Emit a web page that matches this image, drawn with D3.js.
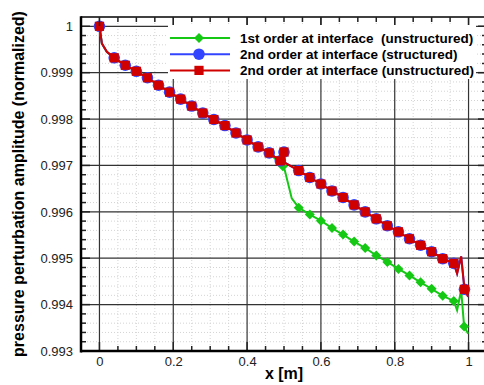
<!DOCTYPE html>
<html>
<head>
<meta charset="utf-8">
<script src="https://cdn.jsdelivr.net/npm/d3@7"></script>
<style>
  body { margin: 0; background: #fff; }
  svg { display: block; font-family: "Liberation Sans", Arial, Helvetica, sans-serif; }
</style>
</head>
<body>
<svg id="chart" width="484" height="385"></svg>
<script>
// ---- data ----
// 1st order at interface (unstructured)
var x1stUnstr = [0, 0.0065, 0.02, 0.04, 0.07, 0.10, 0.13, 0.16, 0.19, 0.22, 0.25, 0.28, 0.31, 0.34, 0.37, 0.40, 0.43, 0.46,
    0.497, 0.502, 0.521, 0.54, 0.57, 0.60, 0.63, 0.66, 0.69, 0.72, 0.75, 0.78, 0.81, 0.84, 0.87, 0.90, 0.93, 0.96,
    0.969, 0.980, 0.988, 0.999];
var y1stUnstr = [1, 0.99963, 0.99945, 0.99932, 0.99916, 0.99903, 0.99889, 0.99873, 0.99858, 0.99843, 0.99828, 0.99813, 0.99799, 0.99786, 0.99770, 0.99755, 0.99740, 0.99727,
    0.99698, 0.99690, 0.99629, 0.99609, 0.99594, 0.99581, 0.99565, 0.99551, 0.99536, 0.99522, 0.99506, 0.99492, 0.99477, 0.99463, 0.99448, 0.99434, 0.99419, 0.99408,
    0.99388, 0.99431, 0.99353, 0.99337];
var m1stUnstr = [1, 0, 0, 1, 1, 1, 1, 1, 1, 1, 1, 1, 1, 1, 1, 1, 1, 1,
    1, 0, 0, 1, 1, 1, 1, 1, 1, 1, 1, 1, 1, 1, 1, 1, 1, 1,
    0, 0, 1, 0];

// 2nd order at interface (structured)
var x2ndStr = [0, 0.0065, 0.02, 0.04, 0.07, 0.10, 0.13, 0.16, 0.19, 0.22, 0.25, 0.28, 0.31, 0.34, 0.37, 0.40, 0.43, 0.46,
    0.49, 0.50, 0.502, 0.54, 0.57, 0.60, 0.63, 0.66, 0.69, 0.72, 0.75, 0.78, 0.81, 0.84, 0.87, 0.90, 0.93, 0.96,
    0.969, 0.980, 0.989, 0.999];
var y2ndStr = [1, 0.99963, 0.99945, 0.99932, 0.99916, 0.99903, 0.99889, 0.99873, 0.99858, 0.99843, 0.99828, 0.99813, 0.99799, 0.99786, 0.99770, 0.99755, 0.99740, 0.99727,
    0.99710, 0.99729, 0.99706, 0.99689, 0.99674, 0.99660, 0.99645, 0.99631, 0.99615, 0.99600, 0.99585, 0.99570, 0.99557, 0.99542, 0.99528, 0.99514, 0.99499, 0.99489,
    0.99467, 0.99504, 0.99433, 0.99417];
var m2ndStr = [1, 0, 0, 1, 1, 1, 1, 1, 1, 1, 1, 1, 1, 1, 1, 1, 1, 1,
    1, 1, 0, 1, 1, 1, 1, 1, 1, 1, 1, 1, 1, 1, 1, 1, 1, 1,
    0, 0, 1, 0];

// 2nd order at interface (unstructured)
var x2ndUnstr = [0, 0.0065, 0.02, 0.04, 0.07, 0.10, 0.13, 0.16, 0.19, 0.22, 0.25, 0.28, 0.31, 0.34, 0.37, 0.40, 0.43, 0.46,
    0.49, 0.50, 0.502, 0.54, 0.57, 0.60, 0.63, 0.66, 0.69, 0.72, 0.75, 0.78, 0.81, 0.84, 0.87, 0.90, 0.93, 0.96,
    0.969, 0.980, 0.989, 0.999];
var y2ndUnstr = [1, 0.99963, 0.99945, 0.99932, 0.99916, 0.99903, 0.99889, 0.99873, 0.99858, 0.99843, 0.99828, 0.99813, 0.99799, 0.99786, 0.99770, 0.99755, 0.99740, 0.99727,
    0.99710, 0.99729, 0.99706, 0.99689, 0.99674, 0.99660, 0.99645, 0.99631, 0.99615, 0.99600, 0.99585, 0.99570, 0.99557, 0.99542, 0.99528, 0.99514, 0.99499, 0.99489,
    0.99467, 0.99504, 0.99433, 0.99417];
var m2ndUnstr = m2ndStr.slice();

var seriesNames = ["1st order at interface  (unstructured)", "2nd order at interface (structured)", "2nd order at interface (unstructured)"];
var xTicks = [0, 0.2, 0.4, 0.6, 0.8, 1];
var yTicks = [0.993, 0.994, 0.995, 0.996, 0.997, 0.998, 0.999, 1];
var yTickLabels = ["0.993", "0.994", "0.995", "0.996", "0.997", "0.998", "0.999", "1"];
var xTitle = "x [m]";
var yTitle = "pressure perturbation amplitude (normalized)";

SetupAmplitudeChart();

function SetupAmplitudeChart() {
    var svg = d3.select("#chart");
    var left = 81, right = 487, top = 17, bottom = 351;

    var x = d3.scaleLinear().domain([-0.05, 1.05]).range([left, right]);
    var y = d3.scaleLinear().domain([0.993, 1.0002]).range([bottom, top]);

    var xMinor = d3.range(-1, 22).map(function (i) { return i * 0.05; })
        .filter(function (d) { return d >= -0.05 && d <= 1.05 && Math.abs(d / 0.2 - Math.round(d / 0.2)) > 1e-6; });
    var yMinor = d3.range(0, 36).map(function (i) { return 0.993 + i * 0.0002; })
        .filter(function (d) { return Math.abs(d / 0.001 - Math.round(d / 0.001)) > 1e-6; });

    // minor dotted grid
    var grid = svg.append("g");
    grid.selectAll(".gx").data(xMinor).enter().append("line")
        .attr("x1", function (d) { return x(d); }).attr("x2", function (d) { return x(d); })
        .attr("y1", top).attr("y2", bottom)
        .attr("stroke", "#d4d4d4").attr("stroke-dasharray", "1,2");
    grid.selectAll(".gy").data(yMinor).enter().append("line")
        .attr("x1", left).attr("x2", right)
        .attr("y1", function (d) { return y(d); }).attr("y2", function (d) { return y(d); })
        .attr("stroke", "#d4d4d4").attr("stroke-dasharray", "1,2");

    // major grid
    grid.selectAll(".Gx").data(xTicks).enter().append("line")
        .attr("x1", function (d) { return x(d); }).attr("x2", function (d) { return x(d); })
        .attr("y1", top).attr("y2", bottom)
        .attr("stroke", "#333").attr("stroke-width", 1.2);
    grid.selectAll(".Gy").data(yTicks).enter().append("line")
        .attr("x1", left).attr("x2", right)
        .attr("y1", function (d) { return y(d); }).attr("y2", function (d) { return y(d); })
        .attr("stroke", "#333").attr("stroke-width", 1.2);

    // series
    var colors = ["#14c814", "#3344ff", "#d00000"];
    var sets = [
        { xs: x1stUnstr, ys: y1stUnstr, ms: m1stUnstr, shape: "diamond" },
        { xs: x2ndStr, ys: y2ndStr, ms: m2ndStr, shape: "circle" },
        { xs: x2ndUnstr, ys: y2ndUnstr, ms: m2ndUnstr, shape: "square" }
    ];

    var line = d3.line()
        .x(function (d) { return x(d[0]); })
        .y(function (d) { return y(d[1]); });

    sets.forEach(function (s, k) {
        var pts = s.xs.map(function (v, i) { return [v, s.ys[i], s.ms[i]]; });
        var g = svg.append("g");
        g.append("path")
            .attr("d", line(pts))
            .attr("fill", "none")
            .attr("stroke", colors[k])
            .attr("stroke-width", 2);
        drawMarkers(g, pts.filter(function (p) { return p[2] === 1; }), s.shape, colors[k], x, y);
    });

    // top frame and right frame
    svg.append("line").attr("x1", left).attr("x2", right).attr("y1", top).attr("y2", top)
        .attr("stroke", "#000").attr("stroke-width", 1.5);
    svg.append("line").attr("x1", right).attr("x2", right).attr("y1", top).attr("y2", bottom)
        .attr("stroke", "#000").attr("stroke-width", 1.5);

    // ticks on all four sides (inward)
    var ticks = svg.append("g").attr("stroke", "#222");
    xTicks.concat(xMinor).forEach(function (d) {
        var len = xTicks.indexOf(d) >= 0 ? 9 : 5;
        ticks.append("line").attr("x1", x(d)).attr("x2", x(d)).attr("y1", bottom).attr("y2", bottom - len).attr("stroke-width", 1.5);
        ticks.append("line").attr("x1", x(d)).attr("x2", x(d)).attr("y1", top).attr("y2", top + len).attr("stroke-width", 1.5);
    });
    yTicks.concat(yMinor).forEach(function (d) {
        var len = yTicks.indexOf(d) >= 0 ? 9 : 5;
        ticks.append("line").attr("x1", left).attr("x2", left + len).attr("y1", y(d)).attr("y2", y(d)).attr("stroke-width", 1.5);
        ticks.append("line").attr("x1", right).attr("x2", right - len).attr("y1", y(d)).attr("y2", y(d)).attr("stroke-width", 1.5);
    });

    // Add the X Axis labels
    svg.append("g")
        .attr("transform", "translate(0," + bottom + ")")
        .call(d3.axisBottom(x).tickValues(xTicks).tickSize(0).tickPadding(6)
            .tickFormat(function (d) { return d3.format("")(+d.toFixed(1)); }))
        .call(function (g) { g.select(".domain").remove(); })
        .selectAll("text").attr("font-size", 13).attr("fill", "#222")
        .attr("font-family", "Liberation Sans, Arial, sans-serif");

    // Add the Y Axis labels
    svg.append("g")
        .attr("transform", "translate(" + left + ",0)")
        .call(d3.axisLeft(y).tickValues(yTicks).tickSize(0).tickPadding(8)
            .tickFormat(function (d, i) { return yTickLabels[i]; }))
        .call(function (g) { g.select(".domain").remove(); })
        .selectAll("text").attr("font-size", 13).attr("fill", "#222")
        .attr("font-family", "Liberation Sans, Arial, sans-serif");

    // thick axis lines
    svg.append("line").attr("x1", left).attr("x2", left).attr("y1", top - 0.75).attr("y2", bottom + 1.5)
        .attr("stroke", "#000").attr("stroke-width", 2.5);
    svg.append("line").attr("x1", left).attr("x2", right).attr("y1", bottom).attr("y2", bottom)
        .attr("stroke", "#000").attr("stroke-width", 2.5);

    // axis titles
    svg.append("text")
        .attr("x", (left + right) / 2).attr("y", 379)
        .attr("text-anchor", "middle")
        .attr("font-size", 16).attr("font-weight", "bold")
        .text(xTitle);
    svg.append("text")
        .attr("transform", "translate(24," + (top + bottom) / 2 + ") rotate(-90)")
        .attr("text-anchor", "middle")
        .attr("font-size", 16).attr("font-weight", "bold")
        .text(yTitle);

    // legend
    var legend = svg.append("g");
    legend.append("rect").attr("x", 168).attr("y", 25).attr("width", 308).attr("height", 54).attr("fill", "#fff");
    seriesNames.forEach(function (name, k) {
        var ly = 38 + k * 16.2;
        legend.append("line").attr("x1", 170).attr("x2", 230).attr("y1", ly).attr("y2", ly)
            .attr("stroke", colors[k]).attr("stroke-width", 2);
        var lx = d3.scaleLinear().domain([0, 1]).range([199, 200]);
        var ly2 = d3.scaleLinear().domain([0, 1]).range([ly, ly + 1]);
        drawMarkers(legend, [[0, 0]], sets[k].shape, colors[k], lx, ly2);
        legend.append("text").attr("x", 240).attr("y", ly + 4.5)
            .attr("font-size", 13.5).attr("font-weight", "bold")
            .style("white-space", "pre")
            .text(name);
    });
}

function drawMarkers(g, pts, shape, color, x, y) {
    if (shape === "circle") {
        g.selectAll(null).data(pts).enter().append("circle")
            .attr("cx", function (d) { return x(d[0]); })
            .attr("cy", function (d) { return y(d[1]); })
            .attr("r", 5.8).attr("fill", color);
    } else if (shape === "square") {
        g.selectAll(null).data(pts).enter().append("rect")
            .attr("x", function (d) { return x(d[0]) - 4.6; })
            .attr("y", function (d) { return y(d[1]) - 4.6; })
            .attr("width", 9.2).attr("height", 9.2).attr("fill", color);
    } else {
        g.selectAll(null).data(pts).enter().append("path")
            .attr("d", function (d) {
                var cx = x(d[0]), cy = y(d[1]), r = 5;
                return "M" + cx + "," + (cy - r) + "L" + (cx + r) + "," + cy + "L" + cx + "," + (cy + r) + "L" + (cx - r) + "," + cy + "Z";
            })
            .attr("fill", color);
    }
}
</script>
</body>
</html>
